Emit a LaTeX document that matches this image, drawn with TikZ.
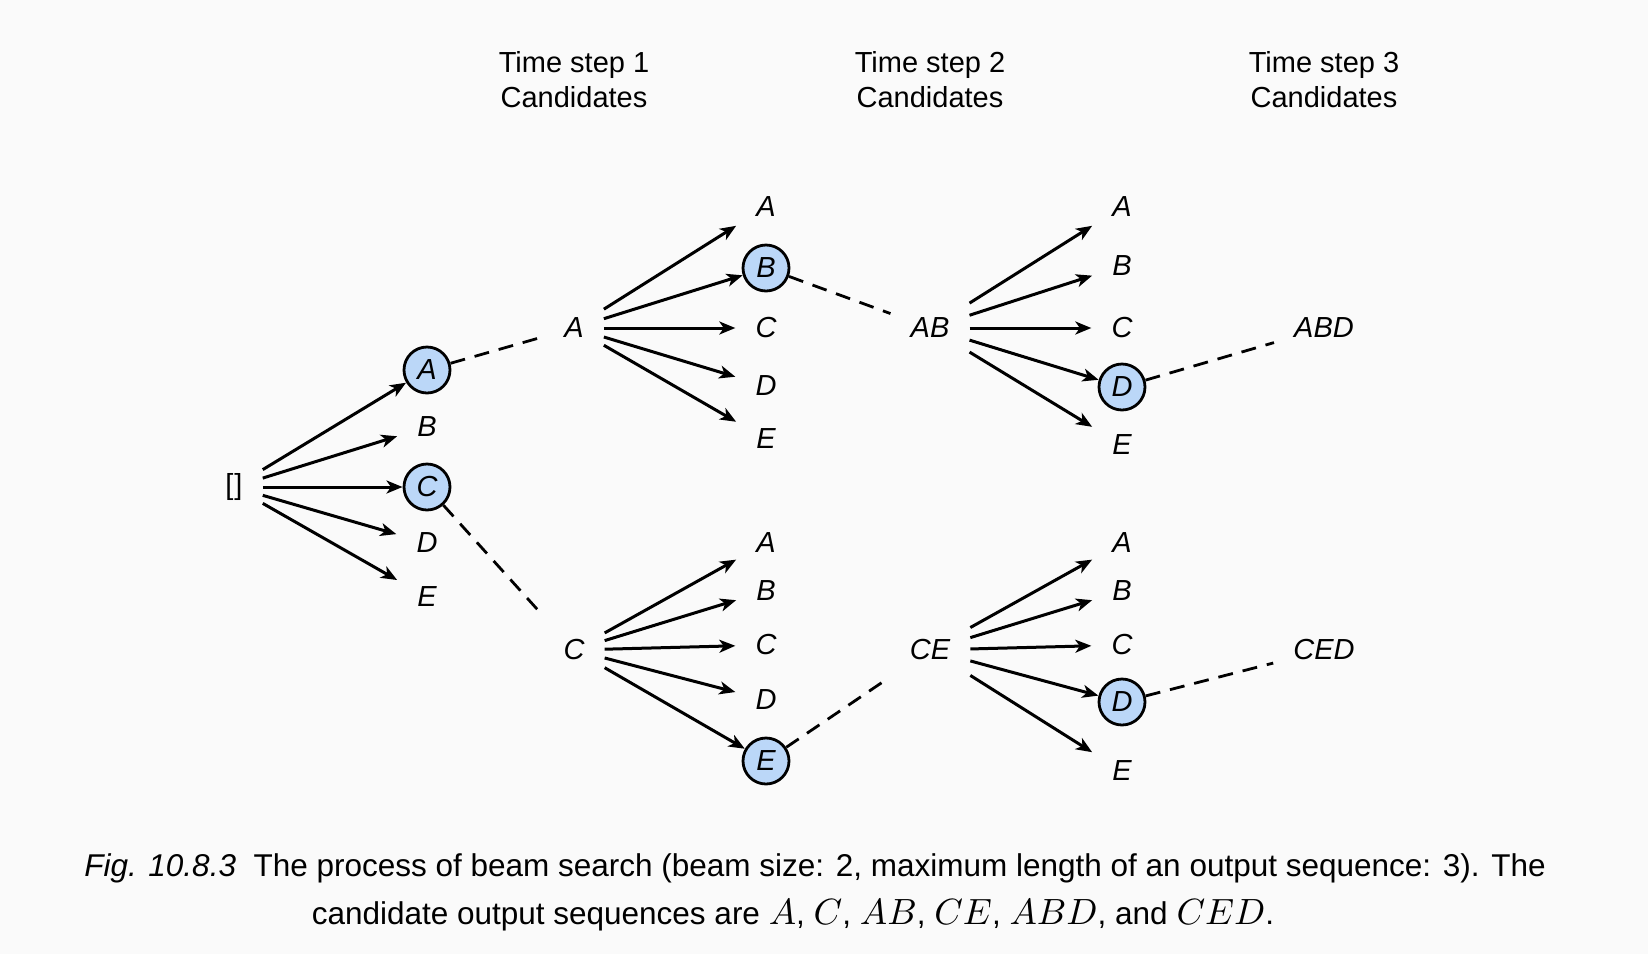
\documentclass[tikz,border=0pt]{standalone}
\usepackage{fontspec}
\setmainfont{Liberation Sans}
\usetikzlibrary{arrows.meta}
\DeclareFontShape{OML}{cmm}{m}{it}{<->cmmi10}{\skewchar\font=127 }
\definecolor{bgc}{HTML}{FAFAFA}
\definecolor{hl}{HTML}{BBD7F8}
\newcommand{\cm}[1]{{\fontsize{36.5}{40}\selectfont$#1$}}
\begin{document}
\begin{tikzpicture}[x=1pt,y=-1pt,
  txt/.style={font=\fontsize{29}{35}\selectfont},
  captxt/.style={font=\fontsize{31.5}{36}\selectfont},
  lbl/.style={font=\fontsize{29}{35}\selectfont\itshape, inner xsep=20pt, inner ysep=0pt, minimum height=72pt},
  sel/.style={circle, draw, line width=2.8pt, fill=hl, minimum size=46pt, inner sep=0pt, outer sep=1.5pt, font=\fontsize{29}{35}\selectfont\itshape},
  arr/.style={line width=3pt, -{Stealth[length=16pt,width=13pt,inset=4.5pt]}},
  dsh/.style={line width=2.8pt, dash pattern=on 15pt off 10pt},
]
\fill[bgc] (0,0) rectangle (1648,954);
% headers
\node[txt, align=center] (h1) at (574,80) {Time step 1\\Candidates};
\node[txt, align=center] (h2) at (930,80) {Time step 2\\Candidates};
\node[txt, align=center] (h3) at (1324,80) {Time step 3\\Candidates};
% root
\node[lbl, font=\fontsize{29}{35}\selectfont] (root) at (234,487) {[\kern1pt]};
% level 1
\node[sel] (a1) at (427,370) {A};
\node[lbl] (b1) at (427,427) {B};
\node[sel] (c1) at (427,487) {C};
\node[lbl] (d1) at (427,543) {D};
\node[lbl] (e1) at (427,597) {E};
% mid sequences
\node[lbl] (mA) at (574,328) {A};
\node[lbl] (mC) at (574,650) {C};
% level 2 upper
\node[lbl] (ua2) at (766,207) {A};
\node[sel] (ub2) at (766,268) {B};
\node[lbl] (uc2) at (766,328) {C};
\node[lbl] (ud2) at (766,386) {D};
\node[lbl] (ue2) at (766,439) {E};
% level 2 lower
\node[lbl] (wa2) at (766,543) {A};
\node[lbl] (wb2) at (766,591) {B};
\node[lbl] (wc2) at (766,645) {C};
\node[lbl] (wd2) at (766,700) {D};
\node[sel] (we2) at (766,761) {E};
% sequences
\node[lbl] (AB) at (930,328) {AB};
\node[lbl] (CE) at (930,650) {CE};
% level 3 upper
\node[lbl] (ua3) at (1122,207) {A};
\node[lbl] (ub3) at (1122,266) {B};
\node[lbl] (uc3) at (1122,328) {C};
\node[sel] (ud3) at (1122,387) {D};
\node[lbl] (ue3) at (1122,445) {E};
% level 3 lower
\node[lbl] (wa3) at (1122,543) {A};
\node[lbl] (wb3) at (1122,591) {B};
\node[lbl] (wc3) at (1122,645) {C};
\node[sel] (wd3) at (1122,702) {D};
\node[lbl] (we3) at (1122,771) {E};
% final
\node[lbl] (ABD) at (1324,328) {ABD};
\node[lbl] (CED) at (1324,650) {CED};
% arrows
\foreach \t in {a1,b1,c1,d1,e1} \draw[arr] (root) -- (\t);
\foreach \t in {ua2,ub2,uc2,ud2,ue2} \draw[arr] (mA) -- (\t);
\foreach \t in {wa2,wb2,wc2,wd2,we2} \draw[arr] (mC) -- (\t);
\foreach \t in {ua3,ub3,uc3,ud3,ue3} \draw[arr] (AB) -- (\t);
\foreach \t in {wa3,wb3,wc3,wd3,we3} \draw[arr] (CE) -- (\t);
% dashed
\draw[dsh] (a1) -- (mA);
\draw[dsh] (c1) -- (mC);
\draw[dsh] (ub2) -- (AB);
\draw[dsh] (we2) -- (CE);
\draw[dsh] (ud3) -- (ABD);
\draw[dsh] (wd3) -- (CED);
% caption
\node[captxt] (cap1) at (815,868) {\textit{Fig. 10.8.3}\ \ The process of beam search (beam size: 2, maximum length of an output sequence: 3). The};
\node[captxt] (cap2) at (793,915) {candidate output sequences are \cm{A}, \cm{C}, \cm{AB}, \cm{CE}, \cm{ABD}, and \cm{CED}.};
\end{tikzpicture}
\end{document}
